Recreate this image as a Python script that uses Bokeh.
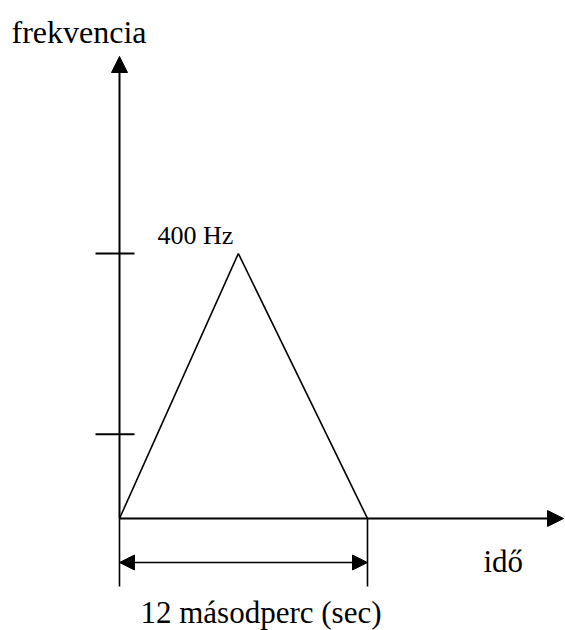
from bokeh.plotting import figure
from bokeh.models import Arrow, NormalHead, Range1d
from bokeh.core.properties import value
from bokeh.embed import file_html
from bokeh.resources import INLINE

# ---- data ----
time_s = [0, 5.75, 12]          # seconds
freq_hz = [0, 400, 0]           # Hz
ytick_vals = [127, 400]         # tick marks on frequency axis
peak_label = "400 Hz"
y_title = "frekvencia"
x_title = "idő"
dur_label = "12 másodperc (sec)"
duration = 12

# ---- layout (page pixel anchors) ----
W, H = 565, 630
MARGIN = 0
ORIGIN_PX = (119, 518)          # page pixel of (0,0)
SX = 248 / 12.0                 # px per second
SY = 265 / 400.0                # px per Hz

x0 = -(ORIGIN_PX[0] - MARGIN) / SX
x1 = x0 + W / SX
y1 = (ORIGIN_PX[1] - MARGIN) / SY
y0 = y1 - H / SY


def dx(px):
    return (px - ORIGIN_PX[0]) / SX


def dy(py):
    return (ORIGIN_PX[1] - py) / SY


p = figure(width=W, height=H, x_range=Range1d(x0, x1), y_range=Range1d(y0, y1),
           output_backend="svg", toolbar_location=None, min_border=0,
           x_axis_type=None, y_axis_type=None)
p.grid.visible = False
p.outline_line_color = None
p.background_fill_color = "white"
p.border_fill_color = "white"

FONT = value("Liberation Serif")

# axes with arrowheads
p.add_layout(Arrow(end=NormalHead(size=16, fill_color="black", line_color="black", line_width=1),
                   x_start=0, y_start=0, x_end=0, y_end=dy(56),
                   line_color="black", line_width=2))
p.add_layout(Arrow(end=NormalHead(size=16, fill_color="black", line_color="black", line_width=1),
                   x_start=0, y_start=0, x_end=dx(563), y_end=0,
                   line_color="black", line_width=2))

# tick marks
p.segment(x0=[dx(95)] * len(ytick_vals), x1=[dx(134)] * len(ytick_vals),
          y0=ytick_vals, y1=ytick_vals, line_color="black", line_width=2)

# triangle
p.line(time_s, freq_hz, line_color="black", line_width=1.6)

# dimension lines
p.segment(x0=[0, duration], x1=[0, duration], y0=[0, 0], y1=[dy(586), dy(586)],
          line_color="black", line_width=1.6)
p.add_layout(Arrow(start=NormalHead(size=15, fill_color="black", line_color="black", line_width=1),
                   end=NormalHead(size=15, fill_color="black", line_color="black", line_width=1),
                   x_start=0, y_start=dy(562), x_end=duration, y_end=dy(562),
                   line_color="black", line_width=1.6))

# texts
p.text(x=[dx(11)], y=[dy(31)], text=[y_title], text_font=FONT, text_font_size="32px",
       text_align="left", text_baseline="alphabetic", text_color="black")
p.text(x=[dx(157)], y=[dy(235)], text=[peak_label], text_font=FONT, text_font_size="26px",
       text_align="left", text_baseline="alphabetic", text_color="black")
p.text(x=[dx(483)], y=[dy(561)], text=[x_title], text_font=FONT, text_font_size="31px",
       text_align="left", text_baseline="alphabetic", text_color="black")
p.text(x=[dx(140)], y=[dy(612)], text=[dur_label], text_font=FONT, text_font_size="31px",
       text_align="left", text_baseline="alphabetic", text_color="black")

open("out.html", "w").write(file_html(p, INLINE))
